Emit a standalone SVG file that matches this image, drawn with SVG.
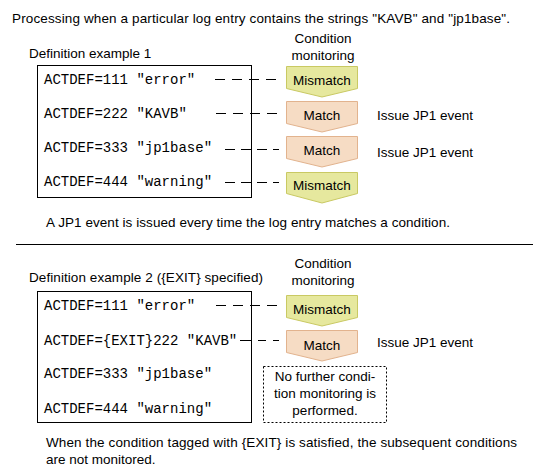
<svg xmlns="http://www.w3.org/2000/svg" width="547" height="474" viewBox="0 0 547 474">
<style>
.t{font-family:"Liberation Sans",Arial,sans-serif;font-size:13.5px;fill:#000}
.c{font-family:"Liberation Mono","Courier New",monospace;font-size:14px;fill:#000}
.m{text-anchor:middle}
.box{fill:#fff;stroke:#000;stroke-width:1}
.mis{fill:#e6e89e;stroke:#c9c963;stroke-width:1}
.mat{fill:#f6dcc4;stroke:#e2b38e;stroke-width:1}
.da{fill:none;stroke:#000;stroke-width:1;stroke-dasharray:10 7}
.db{fill:none;stroke:#000;stroke-width:1;stroke-dasharray:10 6}
.dc{fill:none;stroke:#000;stroke-width:1;stroke-dasharray:8 7}
.note{fill:#fff;stroke:#000;stroke-width:1;stroke-dasharray:2 2}
</style>
<rect width="547" height="474" fill="#fff"/>
<text class="t" x="12" y="23" textLength="498" lengthAdjust="spacing">Processing when a particular log entry contains the strings "KAVB" and "jp1base".</text>

<!-- Section 1 -->
<g id="sec1-labels">
<text class="t m" x="323" y="43">Condition</text>
<text class="t m" x="323" y="60">monitoring</text>
<text class="t" x="29" y="58">Definition example 1</text>
</g>
<g id="def1">
<rect class="box" x="37.5" y="65.5" width="214" height="132"/>
<text class="c" x="44" y="84">ACTDEF=111 "error"</text>
<text class="c" x="44" y="118">ACTDEF=222 "KAVB"</text>
<text class="c" x="44" y="152">ACTDEF=333 "jp1base"</text>
<text class="c" x="44" y="186">ACTDEF=444 "warning"</text>
</g>
<g id="connectors1">
<line class="da" x1="215" y1="79.5" x2="277" y2="79.5"/>
<line class="da" x1="216" y1="113.5" x2="277" y2="113.5"/>
<line class="db" x1="225" y1="149.5" x2="279" y2="149.5"/>
<line class="db" x1="225" y1="182.5" x2="279" y2="182.5"/>
</g>
<g id="s1-mismatch1">
<polygon class="mis" points="286.5,66.5 357.5,66.5 357.5,88.5 322,97 286.5,88.5"/>
<text class="t m" x="322" y="85">Mismatch</text>
</g>
<g id="s1-match1">
<polygon class="mat" points="286.5,101.5 357.5,101.5 357.5,123.5 322,132 286.5,123.5"/>
<text class="t m" x="322" y="120">Match</text>
</g>
<g id="s1-match2">
<polygon class="mat" points="286.5,136.5 357.5,136.5 357.5,158.5 322,167 286.5,158.5"/>
<text class="t m" x="322" y="155">Match</text>
</g>
<g id="s1-mismatch2">
<polygon class="mis" points="286.5,172.5 357.5,172.5 357.5,193.5 322,203 286.5,193.5"/>
<text class="t m" x="322" y="190">Mismatch</text>
</g>
<g id="s1-issue">
<text class="t" x="377" y="120">Issue JP1 event</text>
<text class="t" x="377" y="157">Issue JP1 event</text>
</g>
<text class="t" x="46" y="227" textLength="404" lengthAdjust="spacing">A JP1 event is issued every time the log entry matches a condition.</text>

<line x1="16" y1="244.5" x2="533" y2="244.5" stroke="#000" stroke-width="1"/>

<!-- Section 2 -->
<g id="sec2-labels">
<text class="t m" x="323" y="268">Condition</text>
<text class="t m" x="323" y="285">monitoring</text>
<text class="t" x="29" y="282" textLength="234" lengthAdjust="spacing">Definition example 2 ({EXIT} specified)</text>
</g>
<g id="def2">
<rect class="box" x="37.5" y="291.5" width="214" height="131"/>
<text class="c" x="44" y="310">ACTDEF=111 "error"</text>
<text class="c" x="44" y="345">ACTDEF={EXIT}222 "KAVB"</text>
<text class="c" x="44" y="378">ACTDEF=333 "jp1base"</text>
<text class="c" x="44" y="413">ACTDEF=444 "warning"</text>
</g>
<g id="connectors2">
<line class="da" x1="216" y1="305.5" x2="277" y2="305.5"/>
<line x1="240" y1="340.5" x2="251" y2="340.5" stroke="#000" stroke-width="1"/>
<line class="dc" x1="258" y1="340.5" x2="279" y2="340.5"/>
</g>
<g id="s2-mismatch">
<polygon class="mis" points="286.5,295.5 357.5,295.5 357.5,317.5 322,326 286.5,317.5"/>
<text class="t m" x="322" y="314">Mismatch</text>
</g>
<g id="s2-match">
<polygon class="mat" points="286.5,330.5 357.5,330.5 357.5,352.5 322,361 286.5,352.5"/>
<text class="t m" x="322" y="350">Match</text>
</g>
<text class="t" x="377" y="347">Issue JP1 event</text>
<g id="note">
<rect class="note" x="263.5" y="366.5" width="123" height="56"/>
<text class="t m" x="325" y="381">No further condi-</text>
<text class="t m" x="325" y="398">tion monitoring is</text>
<text class="t m" x="325" y="415">performed.</text>
</g>
<text class="t" x="46" y="447" textLength="471" lengthAdjust="spacing">When the condition tagged with {EXIT} is satisfied, the subsequent conditions</text>
<text class="t" x="46" y="464">are not monitored.</text>
</svg>
